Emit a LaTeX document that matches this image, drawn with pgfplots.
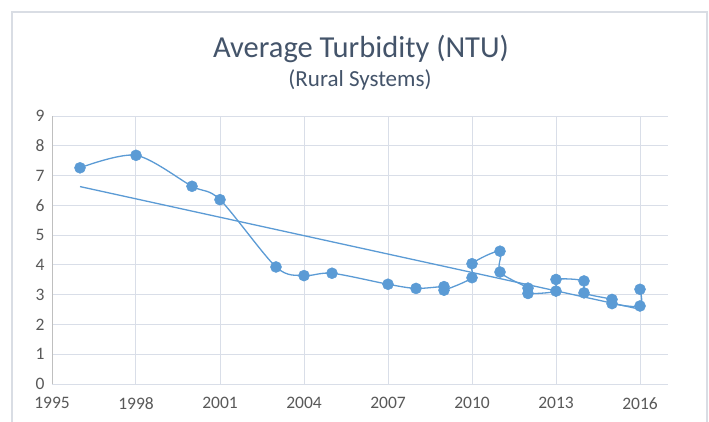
\documentclass[border=0pt]{standalone}
\usepackage{fontspec}
\setmainfont{Carlito}
\usepackage{pgfplots}
\pgfplotsset{compat=1.18}
\definecolor{series}{RGB}{91,155,213}
\definecolor{titlec}{RGB}{68,84,106}
\definecolor{tickc}{RGB}{89,89,89}
\definecolor{gridc}{RGB}{217,222,232}
\definecolor{borderc}{RGB}{217,221,228}
\definecolor{yaxc}{RGB}{191,191,191}
\pgfplotstableread{
year val
1996 7.26
1998 7.68
2000 6.64
2001 6.19
2003 3.93
2004 3.64
2005 3.72
2007 3.35
2008 3.21
2009 3.27
2009 3.15
2010 3.57
2010 4.04
2011 4.46
2011 3.76
2012 3.22
2012 3.04
2013 3.12
2013 3.51
2014 3.46
2014 3.06
2015 2.84
2015 2.70
2016 2.62
2016 3.18
}\turb
\begin{document}
\begin{tikzpicture}
\useasboundingbox (0,0) rectangle (709pt,421pt);
\fill[white] (0,0) rectangle (709pt,421pt);
\draw[borderc, line width=1.2pt] (12pt,-5pt) -- (12pt,409pt) -- (707pt,409pt) -- (707pt,-5pt);
\node[anchor=base, text=titlec, font=\fontsize{30.5}{30.5}\selectfont, inner sep=0pt] at (361pt,363pt) {Average Turbidity (NTU)};
\node[anchor=base, text=titlec, font=\fontsize{23}{23}\selectfont, inner sep=0pt] at (360pt,334pt) {(Rural Systems)};
\begin{axis}[
  at={(52pt,37pt)}, anchor=south west, scale only axis,
  width=616pt, height=268pt,
  xmin=1995, xmax=2017, ymin=0, ymax=9,
  xtick={1995,1998,...,2016}, ytick={0,1,...,9},
  major tick length=0pt,
  axis x line*=bottom, axis y line*=left,
  x axis line style={-, draw=gridc, line width=1pt},
  y axis line style={-, draw=yaxc, line width=1pt},
  grid=major,
  major grid style={draw=gridc, line width=1pt},
  ticklabel style={font=\fontsize{17.5}{17.5}\selectfont, text=tickc},
  /pgf/number format/assume math mode=true,
  x tick label style={/pgf/number format/1000 sep={}, yshift=-10pt},
  y tick label style={xshift=-4pt},
  clip=false,
]
\addplot[series, line width=1.3pt, smooth, tension=0.5, mark=*, mark size=5.5pt,
  mark options={fill=series, draw=series, line width=0.5pt}] table[x=year, y=val] {\turb};
\addplot[series, line width=1.3pt, no marks] coordinates {(1996,6.63) (2016,2.51)};
\end{axis}
\end{tikzpicture}
\end{document}
